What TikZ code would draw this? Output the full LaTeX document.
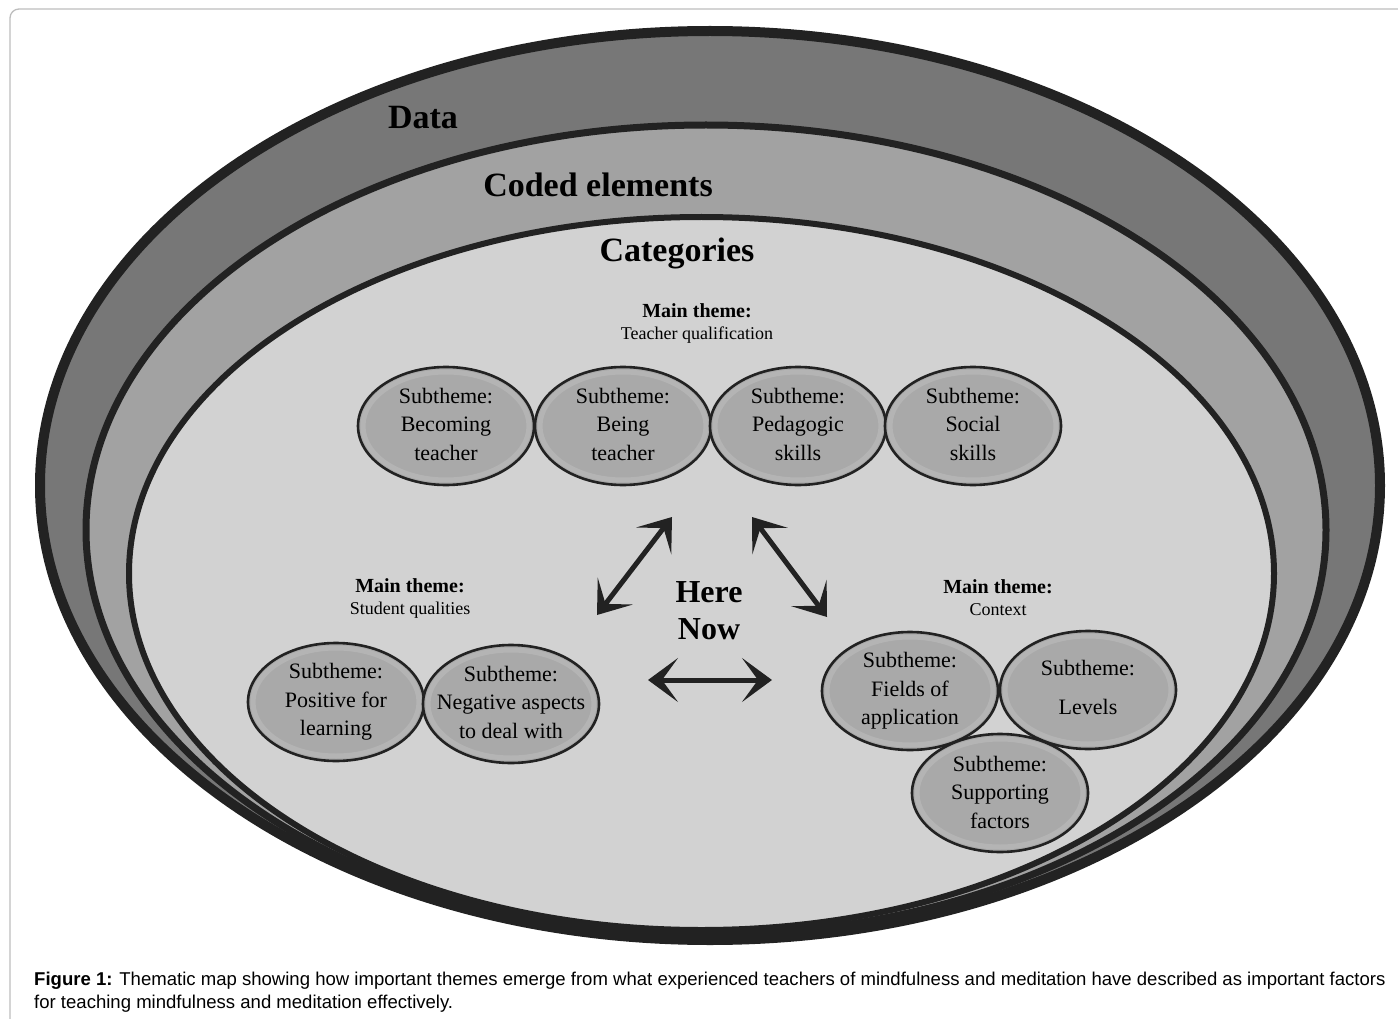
\documentclass[tikz,border=0pt]{standalone}
\usepackage{fontspec}
\setmainfont{Liberation Serif}
\newfontfamily\capfont{Liberation Sans}
\usetikzlibrary{shapes.geometric,arrows.meta}
\definecolor{ringA}{HTML}{777777}
\definecolor{ringB}{HTML}{A2A2A2}
\definecolor{ringC}{HTML}{D2D2D2}
\definecolor{linecol}{HTML}{222222}
\definecolor{subfill}{HTML}{A9A9A9}
\definecolor{subhalo}{HTML}{B4B4B4}
\definecolor{framecol}{HTML}{BDBDBD}
\tikzset{
  subell/.style={ellipse, draw=linecol, line width=2.6, fill=subfill,
    minimum width=176, minimum height=118, inner sep=0, outer sep=0,
    path picture={\draw[subhalo, line width=5]
      (path picture bounding box.center) ellipse [x radius=83, y radius=54];}},
  subtext/.style={align=center, inner sep=0, font=\fontsize{22}{28.5}\selectfont},
  ringtitle/.style={inner sep=0, font=\fontsize{34}{40}\selectfont\bfseries},
  maintheme/.style={align=center, inner sep=0, font=\fontsize{18}{22}\selectfont},
  twoway/.style={line width=5, draw=linecol,
    {Stealth[length=30pt, width=44pt, inset=16pt]}-{Stealth[length=30pt, width=44pt, inset=16pt]}},
  capstyle/.style={inner sep=0, anchor=base west, align=left,
    font=\capfont\fontsize{18.55}{23}\selectfont}
}
\begin{document}
\begin{tikzpicture}[x=1pt, y=-1pt]
\useasboundingbox (0,0) rectangle (1398,1019);
\begin{scope}
\clip (0,0) rectangle (1398,1019);
\fill[white] (0,0) rectangle (1398,1019);
\draw[framecol, line width=1.3, rounded corners=9] (10,1030) -- (10,9) -- (1410,9);
% rings
\fill[ringA] (710,485.5) ellipse [x radius=670, y radius=454.5];
\fill[ringB] (706,530) ellipse [x radius=620, y radius=405];
\fill[ringC] (701.5,573.5) ellipse [x radius=572.5, y radius=356.5];
\draw[linecol, line width=10] (710,485.5) ellipse [x radius=670, y radius=454.5];
\draw[linecol, line width=7] (706,530) ellipse [x radius=620, y radius=405];
\draw[linecol, line width=6] (701.5,573.5) ellipse [x radius=572.5, y radius=356.5];
\end{scope}

\node[ringtitle] (data) at (423,118) {Data};
\node[ringtitle] (coded) at (598,185) {Coded elements};
\node[ringtitle] (cat) at (677,253) {Categories};

% main theme: teacher qualification
\node[maintheme] (mtT) at (697,323) {\textbf{\fontsize{20}{22}\selectfont Main theme:}\\Teacher qualification};
\node[subell] (e1) at (446,426) {};
\node[subell] (e2) at (623,426) {};
\node[subell] (e3) at (798,426) {};
\node[subell] (e4) at (973,426) {};
\node[subtext] (t1) at ([yshift=2]e1.center) {Subtheme:\\Becoming\\teacher};
\node[subtext] (t2) at ([yshift=2]e2.center) {Subtheme:\\Being\\teacher};
\node[subtext] (t3) at ([yshift=2]e3.center) {Subtheme:\\Pedagogic\\skills};
\node[subtext] (t4) at ([yshift=2]e4.center) {Subtheme:\\Social\\skills};

% main theme: student qualities
\node[maintheme] (mtS) at (410,598) {\textbf{\fontsize{20}{22}\selectfont Main theme:}\\Student qualities};
\node[subell] (e5) at (336,702) {};
\node[subell] (e6) at (511,704) {};
\node[subtext] (t5) at (e5.center) {Subtheme:\\Positive for\\learning};
\node[subtext] (t6) at ([yshift=2]e6.center) {Subtheme:\\Negative aspects\\to deal with};

% main theme: context
\node[maintheme] (mtC) at (998,598) {\textbf{\fontsize{20}{22}\selectfont Main theme:}\\Context};
\node[subell] (e7) at (910,691) {};
\node[subell] (e8) at (1088,690) {};
\node[subell] (e9) at (1000,793) {};
\node[subtext] (t7) at (e7.center) {Subtheme:\\Fields of\\application};
\node[subtext, font=\fontsize{22}{39}\selectfont] (t8) at ([yshift=3]e8.center) {Subtheme:\\Levels};
\node[subtext] (t9) at ([yshift=1]e9.center) {Subtheme:\\Supporting\\factors};

% here now
\node[inner sep=0, align=center, font=\fontsize{32}{37}\selectfont\bfseries] (here) at (709,611) {Here\\Now};

\coordinate (a1s) at (597,615);
\coordinate (a1e) at (672,517);
\coordinate (a2s) at (752,517);
\coordinate (a2e) at (827,617);
\coordinate (a3s) at (648,680);
\coordinate (a3e) at (772,680);
\draw[twoway] (a1s) -- (a1e);
\draw[twoway] (a2s) -- (a2e);
\draw[twoway] (a3s) -- (a3e);

% caption
\node[capstyle] (cap) at (34,1008) {\textbf{Figure 1:} Thematic map showing how important themes emerge from what experienced teachers of mindfulness and meditation have described as important factors\\for teaching mindfulness and meditation effectively.};
\end{tikzpicture}
\end{document}
